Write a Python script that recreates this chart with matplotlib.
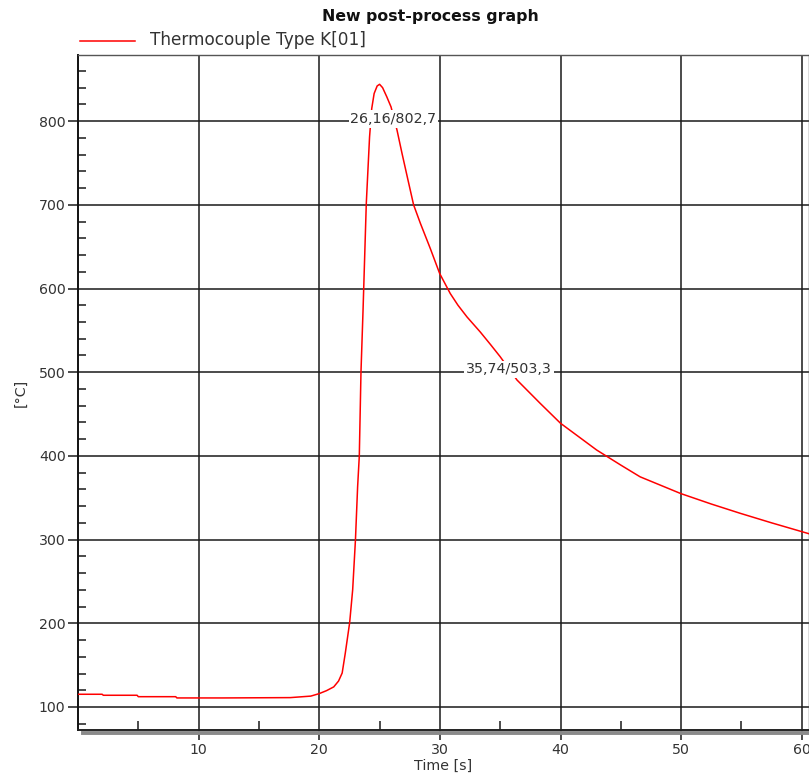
import matplotlib
matplotlib.use('Agg')
import matplotlib.pyplot as plt
import matplotlib.transforms as mtransforms
from matplotlib.lines import Line2D

# Thermocouple reading
time_s = [0.0, 2.0, 2.1, 4.9, 5.0, 8.1, 8.2, 12.0, 17.6, 19.3, 20.0, 20.6, 21.2, 21.6, 21.9,
          22.16, 22.52, 22.77, 23.0, 23.18, 23.32, 23.46, 23.63, 23.9, 24.17,
          24.35, 24.55, 24.8, 25.0, 25.25, 25.6, 25.95, 26.45, 26.86, 27.35, 27.82,
          28.38, 29.2, 29.98, 30.86, 31.5, 32.25, 33.35, 34.2, 35.0, 36.39, 37.77, 38.3,
          40.0, 41.5, 43.0, 45.0, 46.6, 49.97, 52.5, 54.9, 57.5, 60.6]
temp_c = [115.2, 115.2, 114.0, 114.0, 112.3, 112.3, 110.8, 110.8, 111.2, 113.0, 116.0, 119.5, 124.0, 131.0, 140.6,
          164.5, 200.7, 240.0, 299.5, 363.0, 400.0, 500.6, 574.0, 701.8, 781.0,
          815.0, 833.0, 842.0, 844.0, 840.0, 829.0, 817.0, 789.0, 761.5, 730.0, 700.0,
          678.0, 648.0, 618.0, 594.0, 580.0, 566.0, 548.0, 533.0, 518.5, 490.7, 470.7, 463.0,
          439.0, 423.0, 407.0, 389.0, 375.0, 355.0, 342.5, 331.4, 320.0, 307.0]

series_name = 'Thermocouple Type K[01]'
markers = [(26.16, 802.7, '26,16/802,7'), (35.74, 503.3, '35,74/503,3')]
x_major = [10, 20, 30, 40, 50, 60]
x_minor = [5, 15, 25, 35, 45, 55]
y_major = [100, 200, 300, 400, 500, 600, 700, 800]
y_minor = list(range(80, 880, 20))

fig = plt.figure(figsize=(8.09, 7.76), dpi=100)
ax = fig.add_axes([78 / 809, 1 - 730 / 776, 1 - 78 / 809, (730 - 55) / 776])

ax.plot(time_s, temp_c, color='#ff0000', lw=1.1, zorder=3)
ax.set_xlim(0, 60.6)
ax.set_ylim(72.5, 879)

ax.set_xticks(x_major)
ax.set_xticks(x_minor, minor=True)
ax.set_yticks(y_major)
ax.set_yticks([v for v in y_minor if v not in y_major], minor=True)
ax.grid(True, which='major', color='#1a1a1a', lw=1.1)
ax.set_axisbelow(True)

ax.tick_params(which='major', direction='out', length=7, width=1.1, color='#1a1a1a',
               labelsize=10.2, labelcolor='#333333', pad=2)
ax.tick_params(which='minor', direction='in', length=6.5, width=1.1, color='#1a1a1a')
ax.tick_params(axis='y', which='minor', length=5.8)

for side in ['top', 'right']:
    ax.spines[side].set_color('#555555')
    ax.spines[side].set_linewidth(1.0)
ax.spines['left'].set_color('#111111')
ax.spines['left'].set_linewidth(1.4)
ax.spines['bottom'].set_color('#222222')
ax.spines['bottom'].set_linewidth(1.4)

# grey shadow under the time axis
shadow = mtransforms.offset_copy(ax.transAxes, fig=fig, x=0, y=-2.3, units='points')
ax.add_line(Line2D([0.007, 1], [0, 0], transform=shadow, color='#8a8a8a', lw=2.8,
                   clip_on=False, zorder=2))

for x, y, txt in markers:
    ax.text(x, y, txt, ha='center', va='center', fontsize=10.3, color='#333333', zorder=5,
            bbox=dict(boxstyle='square,pad=0.12', fc='white', ec='none'))

ax.set_xlabel('Time [s]', fontsize=10.3, color='#333333', labelpad=2)
ax.text(-0.078, 0.5, '[°C]', transform=ax.transAxes, rotation=90, ha='center', va='center',
        fontsize=10.3, color='#333333')

fig.text(430 / 809, 1 - 16 / 776, 'New post-process graph', ha='center', va='center',
         fontsize=11.3, fontweight='bold', color='#111111')
fig.add_artist(Line2D([80 / 809, 135 / 809], [1 - 40.5 / 776] * 2, color='#ff0000', lw=1.1))
fig.text(150 / 809, 1 - 40 / 776, series_name, ha='left', va='center', fontsize=12.2,
         color='#333333')

fig.savefig('out.png', dpi=100)
